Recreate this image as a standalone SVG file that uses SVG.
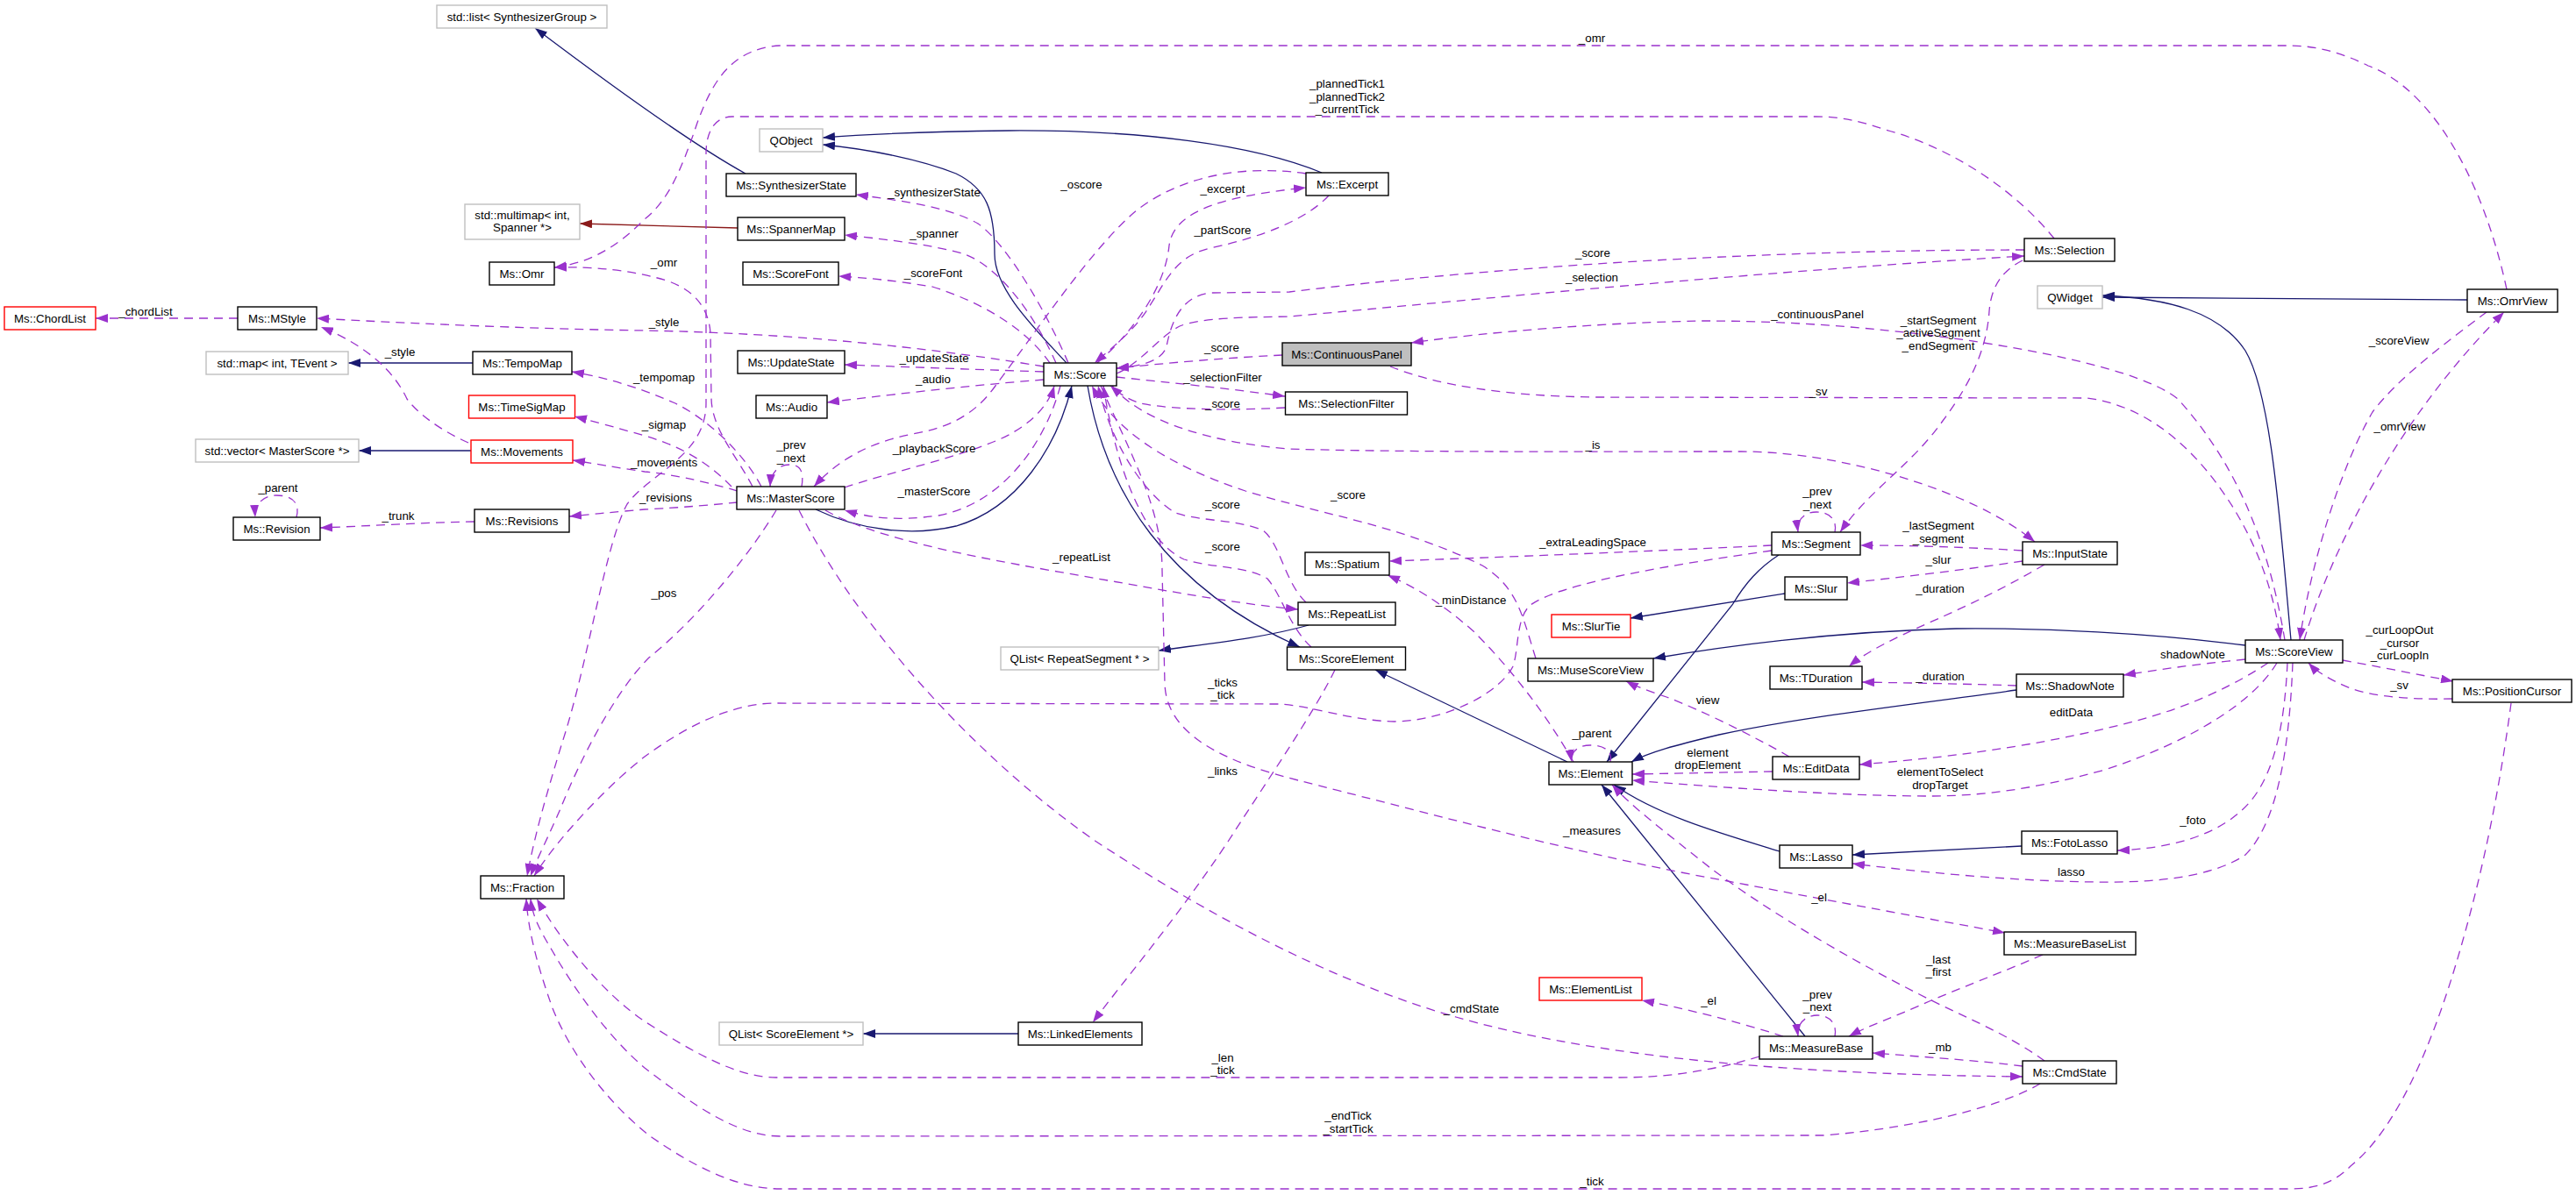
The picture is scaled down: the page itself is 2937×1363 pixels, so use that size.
<svg xmlns="http://www.w3.org/2000/svg" width="2937" height="1363" viewBox="0 0 2937 1363">
<style>
.b{fill:#fff;stroke:#000;stroke-width:1.4}
.g{fill:#fff;stroke:#bfbfbf;stroke-width:1.4}
.r{fill:#fff;stroke:#ff0000;stroke-width:1.4}
.root{fill:#bfbfbf;stroke:#000;stroke-width:1.4}
text{font-family:"Liberation Sans",Arial,Helvetica,sans-serif;font-size:13.3px;fill:#000;text-anchor:middle}
.u{fill:none;stroke:#9a32cd;stroke-width:1.3;stroke-dasharray:10,7;marker-end:url(#ap)}
.i{fill:none;stroke:#191970;stroke-width:1.3;marker-end:url(#an)}
.tp{fill:none;stroke:#8b1a1a;stroke-width:1.3;marker-end:url(#ar)}
</style>
<defs>
<marker id="ap" markerUnits="userSpaceOnUse" viewBox="0 0 14 10" markerWidth="14" markerHeight="10" refX="14" refY="5" orient="auto"><path d="M0,0L14,5L0,10z" fill="#9a32cd"/></marker>
<marker id="an" markerUnits="userSpaceOnUse" viewBox="0 0 14 10" markerWidth="14" markerHeight="10" refX="14" refY="5" orient="auto"><path d="M0,0L14,5L0,10z" fill="#191970"/></marker>
<marker id="ar" markerUnits="userSpaceOnUse" viewBox="0 0 14 10" markerWidth="14" markerHeight="10" refX="14" refY="5" orient="auto"><path d="M0,0L14,5L0,10z" fill="#8b1a1a"/></marker>
</defs>
<rect width="2937" height="1363" fill="#fff"/>
<g id="connectors">
<!-- inheritance -->
<path class="i" d="M850,198 C790,165 700,100 610,32"/>
<path class="i" d="M1216,414 C1180,375 1134,330 1134,290 C1134,240 1125,215 1090,198 C1050,182 990,170 938,165"/>
<path class="i" d="M1507,197 C1430,165 1300,148 1150,149 C1060,150 990,153 938,157"/>
<path class="i" d="M930,581 C980,605 1040,612 1090,600 C1160,580 1205,510 1222,440"/>
<path class="i" d="M1240,440 C1260,560 1330,670 1482,738"/>
<path class="i" d="M1492,713 C1440,728 1370,735 1321,742"/>
<path class="i" d="M1787,869 L1568,764"/>
<path class="i" d="M2028,633 C2005,648 1990,665 1975,690 L1832,869"/>
<path class="i" d="M2035,677 L1859,705"/>
<path class="i" d="M2560,736 C2450,722 2330,716 2230,717 C2100,720 1980,735 1885,751"/>
<path class="i" d="M2612,730 C2600,600 2590,450 2560,400 C2530,355 2470,340 2397,337"/>
<path class="i" d="M2813,342 L2397,339"/>
<path class="i" d="M2299,787 C2200,801 2050,818 1960,838 C1910,850 1880,858 1860,869"/>
<path class="i" d="M2029,971 C1960,950 1890,930 1840,895"/>
<path class="i" d="M2058,1182 L1826,895"/>
<path class="i" d="M2305,965 L2112,975"/>
<path class="i" d="M537,514 L409,514"/>
<path class="i" d="M539,414 L397,414"/>
<path class="i" d="M1161,1179 L984,1179"/>
<path class="tp" d="M841,260 L661,255"/>
<!-- usage -->
<path class="u" d="M271,363 L109,363"/>
<path class="u" d="M1190,418 C1050,395 900,380 735,377 C600,375 450,368 361,363"/>
<path class="u" d="M534,505 C500,490 475,470 464,455 C450,425 420,395 366,373"/>
<path class="u" d="M2858,330 C2830,200 2770,100 2700,75 C2670,60 2640,52 2610,52 L890,52 C830,55 810,100 795,140 C775,200 760,230 735,250 C700,285 670,300 632,305"/>
<path class="u" d="M2342,272 C2300,220 2230,170 2150,148 C2120,138 2100,133 2070,133 L835,133 C815,133 805,150 805,175 L805,460 C805,520 740,540 715,575 C690,620 670,760 640,850 C625,900 610,950 601,999"/>
<path class="u" d="M1489,198 C1400,185 1330,210 1290,245 C1240,290 1180,380 1135,440 C1110,475 1080,488 1040,495 C990,505 955,525 928,555"/>
<path class="u" d="M1251,414 C1290,380 1328,330 1333,280 C1338,245 1380,225 1489,214"/>
<path class="u" d="M1515,223 C1490,250 1440,270 1380,283 C1340,292 1330,320 1310,350 C1295,375 1270,395 1248,414"/>
<path class="u" d="M1218,414 C1195,360 1150,280 1115,255 C1080,235 1020,228 976,222"/>
<path class="u" d="M1204,414 C1180,360 1140,305 1100,290 C1060,278 1000,272 963,268"/>
<path class="u" d="M1197,414 C1170,375 1120,345 1063,327 C1020,320 990,317 956,315"/>
<path class="u" d="M1190,424 C1100,421 1020,418 963,416"/>
<path class="u" d="M1190,433 C1100,440 1000,452 943,459"/>
<path class="u" d="M1462,405 C1400,408 1330,414 1273,420"/>
<path class="u" d="M1273,430 C1330,436 1400,443 1465,452"/>
<path class="u" d="M1465,465 C1410,468 1340,468 1300,460 C1285,455 1275,448 1266,440"/>
<path class="u" d="M2308,285 C2000,285 1700,305 1470,333 L1380,334 C1345,338 1335,370 1330,395 C1325,412 1300,418 1273,420"/>
<path class="u" d="M1273,426 C1300,415 1320,385 1345,372 C1370,362 1420,362 1470,361 C1700,340 2000,310 2308,292"/>
<path class="u" d="M2605,730 C2590,640 2560,540 2483,455 C2440,420 2300,395 2205,383 C2100,370 2020,366 1940,366 C1830,368 1700,378 1609,391"/>
<path class="u" d="M2306,297 C2280,310 2270,330 2268,355 C2265,400 2245,440 2215,480 C2180,530 2130,560 2098,607"/>
<path class="u" d="M1585,418 C1640,440 1720,452 1820,453 L2380,454 C2440,462 2490,500 2530,555 C2570,610 2592,670 2600,730"/>
<path class="u" d="M2835,356 C2790,390 2735,430 2705,470 C2670,530 2635,640 2622,730"/>
<path class="u" d="M2627,730 C2660,620 2740,470 2855,356"/>
<path class="u" d="M1268,440 C1300,480 1380,505 1470,512 C1600,516 1800,515 1985,515 C2100,515 2250,560 2320,618"/>
<path class="u" d="M1751,751 C1735,700 1730,670 1690,645 C1600,600 1500,585 1420,560 C1330,530 1270,490 1245,440"/>
<path class="u" d="M1489,687 C1465,665 1460,620 1440,605 C1410,592 1370,595 1340,585 C1300,560 1265,500 1252,440"/>
<path class="u" d="M1495,738 C1470,715 1462,680 1445,660 C1420,645 1380,648 1350,638 C1300,615 1270,520 1258,440"/>
<path class="u" d="M941,582 C990,610 1080,630 1200,651 C1300,668 1400,688 1480,695"/>
<path class="u" d="M1209,440 C1190,510 1140,575 1070,588 C1020,595 990,590 963,582"/>
<path class="u" d="M963,556 C1010,540 1080,525 1130,505 C1170,490 1195,465 1202,440"/>
<path class="u" d="M914,555 C917,537 912,530 900,530 C888,530 879,538 878,555"/>
<path class="u" d="M834,555 C810,530 780,510 735,497 C700,487 675,480 655,475"/>
<path class="u" d="M841,560 C800,548 760,540 735,538 C700,533 680,529 653,525"/>
<path class="u" d="M841,573 C800,577 760,580 735,581 C700,584 680,586 649,589"/>
<path class="u" d="M868,555 C850,520 810,480 770,460 C740,447 700,432 652,424"/>
<path class="u" d="M858,555 C840,520 812,490 811,455 L810,380 C808,350 790,330 760,320 C720,308 680,304 632,305"/>
<path class="u" d="M2020,622 C1900,628 1700,636 1584,640"/>
<path class="u" d="M1794,869 C1760,810 1720,760 1680,720 C1640,685 1610,668 1582,656"/>
<path class="u" d="M1836,869 C1839,856 1828,850 1813,850 C1800,850 1790,857 1792,869"/>
<path class="u" d="M2040,863 C2000,840 1940,810 1900,795 C1880,788 1865,783 1854,777"/>
<path class="u" d="M2021,880 L1861,883"/>
<path class="u" d="M2596,756 C2570,800 2500,845 2400,878 C2320,900 2260,908 2200,908 C2100,908 1960,898 1861,890"/>
<path class="u" d="M2586,756 C2550,780 2500,805 2436,822 C2350,845 2250,862 2120,872"/>
<path class="u" d="M2560,752 C2500,758 2460,764 2421,770"/>
<path class="u" d="M2331,644 C2290,668 2250,688 2200,710 C2160,728 2130,742 2108,760"/>
<path class="u" d="M2299,782 C2240,780 2180,779 2123,778"/>
<path class="u" d="M2306,628 C2240,624 2180,622 2121,622"/>
<path class="u" d="M2306,640 C2240,650 2170,658 2106,665"/>
<path class="u" d="M2092,607 C2095,592 2085,584 2071,584 C2058,584 2048,592 2050,607"/>
<path class="u" d="M2671,753 C2710,760 2760,770 2797,777"/>
<path class="u" d="M2796,797 C2760,798 2710,796 2680,785 C2655,775 2640,765 2632,756"/>
<path class="u" d="M2863,802 C2850,900 2830,1000 2800,1100 C2770,1200 2730,1290 2680,1330 C2660,1350 2640,1356 2610,1356 L890,1356 C840,1356 790,1330 740,1295 C690,1255 650,1200 630,1150 C612,1100 602,1060 600,1025"/>
<path class="u" d="M2326,1236 C2290,1258 2200,1285 2080,1295 L890,1296 C840,1296 790,1260 735,1218 C690,1180 650,1120 630,1085 C615,1060 607,1045 605,1025"/>
<path class="u" d="M2006,1205 C1950,1222 1900,1229 1845,1229 L885,1229 C840,1229 790,1200 735,1165 C690,1135 640,1075 612,1025"/>
<path class="u" d="M911,582 C980,720 1120,870 1250,960 C1380,1045 1520,1120 1660,1160 C1800,1200 2000,1225 2306,1228"/>
<path class="u" d="M2306,1216 C2260,1210 2200,1206 2135,1201"/>
<path class="u" d="M2331,1210 C2290,1180 2240,1160 2200,1140 C2100,1090 2010,1035 1950,990 C1900,950 1860,920 1838,895"/>
<path class="u" d="M1255,440 C1290,520 1325,580 1325,650 L1328,780 C1330,840 1400,870 1480,890 C1600,920 1800,975 1970,1005 C2100,1030 2200,1048 2286,1064"/>
<path class="u" d="M2033,1182 C1980,1165 1920,1150 1872,1141"/>
<path class="u" d="M2329,1089 C2280,1110 2240,1125 2202,1141 C2160,1160 2130,1170 2108,1182"/>
<path class="u" d="M2092,1182 C2095,1167 2085,1158 2072,1158 C2059,1158 2048,1167 2050,1182"/>
<path class="u" d="M2608,756 C2605,820 2595,880 2565,915 C2530,955 2470,968 2414,970"/>
<path class="u" d="M2614,756 C2610,860 2595,940 2560,975 C2520,1002 2450,1007 2390,1006 C2300,1005 2200,996 2112,985"/>
<path class="u" d="M1522,764 C1500,810 1445,890 1400,960 C1340,1050 1280,1120 1246,1166"/>
<path class="u" d="M2020,628 C1900,645 1780,665 1745,690 C1728,705 1732,740 1725,760 C1710,790 1650,822 1590,823 C1540,822 1500,806 1460,803 L880,802 C830,804 780,830 735,863 C700,890 640,950 609,999"/>
<path class="u" d="M885,582 C850,640 790,710 740,750 C700,790 660,870 640,920 C625,955 612,980 605,999"/>
<path class="u" d="M541,595 C480,596 420,600 365,602"/>
<path class="u" d="M338,590 C342,575 335,565 315,565 C300,565 290,575 291,590"/>
</g>
<g id="edge-labels">
<text x="166" y="359.5">_chordList</text>
<text x="757" y="372">_style</text>
<text x="456" y="405.5">_style</text>
<text x="1815" y="48">_omr</text>
<text x="1536" y="100">_plannedTick1</text>
<text x="1536" y="114.7">_plannedTick2</text>
<text x="1536" y="129.3">_currentTick</text>
<text x="1233" y="215">_oscore</text>
<text x="1394" y="219.5">_excerpt</text>
<text x="1394" y="267">_partScore</text>
<text x="1065" y="224">_synthesizerState</text>
<text x="1065" y="271">_spanner</text>
<text x="1064" y="316">_scoreFont</text>
<text x="1065" y="413">_updateState</text>
<text x="1064" y="437">_audio</text>
<text x="1393" y="401">_score</text>
<text x="1394" y="435">_selectionFilter</text>
<text x="1394" y="464.5">_score</text>
<text x="1816" y="293">_score</text>
<text x="1815" y="321">_selection</text>
<text x="2072" y="363">_continuousPanel</text>
<text x="2210" y="369.5">_startSegment</text>
<text x="2210" y="384">_activeSegment</text>
<text x="2210" y="399">_endSegment</text>
<text x="2073" y="451">_sv</text>
<text x="2735" y="393">_scoreView</text>
<text x="2736" y="491">_omrView</text>
<text x="1816" y="512">_is</text>
<text x="1537" y="568.5">_score</text>
<text x="1394" y="579.5">_score</text>
<text x="1394" y="628">_score</text>
<text x="1233" y="640">_repeatList</text>
<text x="1065" y="564.5">_masterScore</text>
<text x="1065" y="516">_playbackScore</text>
<text x="902" y="512">_prev</text>
<text x="902" y="527">_next</text>
<text x="757" y="489">_sigmap</text>
<text x="757" y="532">_movements</text>
<text x="759" y="572">_revisions</text>
<text x="757" y="435">_tempomap</text>
<text x="757" y="303.5">_omr</text>
<text x="1816" y="623">_extraLeadingSpace</text>
<text x="1677" y="689">_minDistance</text>
<text x="1815" y="841">_parent</text>
<text x="1947" y="803">view</text>
<text x="1947" y="863">element</text>
<text x="1947" y="877">dropElement</text>
<text x="2212" y="884.5">elementToSelect</text>
<text x="2212" y="899.5">dropTarget</text>
<text x="2361.5" y="817">editData</text>
<text x="2500" y="751">shadowNote</text>
<text x="2212" y="676">_duration</text>
<text x="2212" y="776">_duration</text>
<text x="2210" y="604">_lastSegment</text>
<text x="2210" y="619">_segment</text>
<text x="2210" y="643">_slur</text>
<text x="2072" y="564.5">_prev</text>
<text x="2072" y="579.5">_next</text>
<text x="2736" y="723">_curLoopOut</text>
<text x="2736" y="737.5">_cursor</text>
<text x="2736" y="752">_curLoopIn</text>
<text x="2735.5" y="785.5">_sv</text>
<text x="1815" y="1352">_tick</text>
<text x="1537" y="1277">_endTick</text>
<text x="1537" y="1292">_startTick</text>
<text x="1394" y="1211">_len</text>
<text x="1394" y="1225">_tick</text>
<text x="1677.5" y="1155">_cmdState</text>
<text x="2212" y="1199">_mb</text>
<text x="2074" y="1027.5">_el</text>
<text x="1815" y="952">_measures</text>
<text x="1948" y="1146">_el</text>
<text x="2210" y="1099">_last</text>
<text x="2210" y="1113">_first</text>
<text x="2072" y="1139">_prev</text>
<text x="2072" y="1153">_next</text>
<text x="2500" y="940">_foto</text>
<text x="2361.5" y="999">lasso</text>
<text x="1394" y="884">_links</text>
<text x="1394" y="782.8">_ticks</text>
<text x="1394" y="797">_tick</text>
<text x="757" y="680.5">_pos</text>
<text x="454" y="593">_trunk</text>
<text x="317" y="561">_parent</text>
</g>
<g id="n_stdlist"><rect class="g" x="498" y="6" width="194" height="26"/><text x="595" y="23.5">std::list&lt; SynthesizerGroup &gt;</text></g>
<g id="n_qobject"><rect class="g" x="866" y="147" width="72" height="26"/><text x="902" y="164.5">QObject</text></g>
<g id="n_synthstate"><rect class="b" x="828" y="198" width="148" height="26"/><text x="902" y="215.5">Ms::SynthesizerState</text></g>
<g id="n_multimap"><rect class="g" x="530" y="233" width="131" height="40"/><text x="595.5" y="249.5">std::multimap&lt; int,</text><text x="595.5" y="264">Spanner *&gt;</text></g>
<g id="n_spannermap"><rect class="b" x="841" y="248" width="122" height="26"/><text x="902" y="265.5">Ms::SpannerMap</text></g>
<g id="n_omr"><rect class="b" x="558" y="299" width="74" height="26"/><text x="595" y="316.5">Ms::Omr</text></g>
<g id="n_scorefont"><rect class="b" x="847" y="299" width="109" height="26"/><text x="901.5" y="316.5">Ms::ScoreFont</text></g>
<g id="n_chordlist"><rect class="r" x="5" y="350" width="104" height="26"/><text x="57" y="367.5">Ms::ChordList</text></g>
<g id="n_mstyle"><rect class="b" x="271" y="350" width="90" height="26"/><text x="316" y="367.5">Ms::MStyle</text></g>
<g id="n_stdmap"><rect class="g" x="235" y="401" width="162" height="26"/><text x="316" y="418.5">std::map&lt; int, TEvent &gt;</text></g>
<g id="n_tempomap"><rect class="b" x="539" y="401" width="113" height="26"/><text x="595.5" y="418.5">Ms::TempoMap</text></g>
<g id="n_updatestate"><rect class="b" x="841" y="400" width="122" height="26"/><text x="902" y="417.5">Ms::UpdateState</text></g>
<g id="n_score"><rect class="b" x="1190" y="414" width="83" height="26"/><text x="1231.5" y="431.5">Ms::Score</text></g>
<g id="n_contpanel"><rect class="root" x="1462" y="391" width="147" height="26"/><text x="1535.5" y="408.5">Ms::ContinuousPanel</text></g>
<g id="n_excerpt"><rect class="b" x="1489" y="197" width="94" height="26"/><text x="1536" y="214.5">Ms::Excerpt</text></g>
<g id="n_selection"><rect class="b" x="2308" y="272" width="103" height="26"/><text x="2359.5" y="289.5">Ms::Selection</text></g>
<g id="n_qwidget"><rect class="g" x="2323" y="326" width="74" height="26"/><text x="2360" y="343.5">QWidget</text></g>
<g id="n_omrview"><rect class="b" x="2813" y="330" width="103" height="26"/><text x="2864.5" y="347.5">Ms::OmrView</text></g>
<g id="n_timesigmap"><rect class="r" x="534.5" y="451" width="121" height="26"/><text x="595" y="468.5">Ms::TimeSigMap</text></g>
<g id="n_audio"><rect class="b" x="862" y="451" width="81" height="26"/><text x="902.5" y="468.5">Ms::Audio</text></g>
<g id="n_selfilter"><rect class="b" x="1465.5" y="447" width="139" height="26"/><text x="1535" y="464.5">Ms::SelectionFilter</text></g>
<g id="n_vector"><rect class="g" x="223" y="501" width="186" height="26"/><text x="316" y="518.5">std::vector&lt; MasterScore *&gt;</text></g>
<g id="n_movements"><rect class="r" x="537" y="502" width="116" height="26"/><text x="595" y="519.5">Ms::Movements</text></g>
<g id="n_masterscore"><rect class="b" x="840" y="555" width="123" height="26"/><text x="901.5" y="572.5">Ms::MasterScore</text></g>
<g id="n_revision"><rect class="b" x="266" y="590" width="99" height="26"/><text x="315.5" y="607.5">Ms::Revision</text></g>
<g id="n_revisions"><rect class="b" x="541" y="581" width="108" height="26"/><text x="595" y="598.5">Ms::Revisions</text></g>
<g id="n_segment"><rect class="b" x="2020" y="607" width="101" height="26"/><text x="2070.5" y="624.5">Ms::Segment</text></g>
<g id="n_inputstate"><rect class="b" x="2306" y="618" width="108" height="26"/><text x="2360" y="635.5">Ms::InputState</text></g>
<g id="n_spatium"><rect class="b" x="1488" y="630" width="96" height="26"/><text x="1536" y="647.5">Ms::Spatium</text></g>
<g id="n_slur"><rect class="b" x="2035" y="658" width="71" height="26"/><text x="2070.5" y="675.5">Ms::Slur</text></g>
<g id="n_repeatlist"><rect class="b" x="1480" y="687" width="111" height="26"/><text x="1535.5" y="704.5">Ms::RepeatList</text></g>
<g id="n_slurtie"><rect class="r" x="1769" y="701" width="90" height="26"/><text x="1814" y="718.5">Ms::SlurTie</text></g>
<g id="n_scoreview"><rect class="b" x="2560" y="730" width="111" height="26"/><text x="2615.5" y="747.5">Ms::ScoreView</text></g>
<g id="n_qlistrs"><rect class="g" x="1141" y="738" width="180" height="26"/><text x="1231" y="755.5">QList&lt; RepeatSegment * &gt;</text></g>
<g id="n_scoreelement"><rect class="b" x="1467.5" y="738" width="135" height="26"/><text x="1535" y="755.5">Ms::ScoreElement</text></g>
<g id="n_musescoreview"><rect class="b" x="1742" y="751" width="143" height="26"/><text x="1813.5" y="768.5">Ms::MuseScoreView</text></g>
<g id="n_tduration"><rect class="b" x="2018" y="760" width="105" height="26"/><text x="2070.5" y="777.5">Ms::TDuration</text></g>
<g id="n_shadownote"><rect class="b" x="2299" y="769" width="122" height="26"/><text x="2360" y="786.5">Ms::ShadowNote</text></g>
<g id="n_poscursor"><rect class="b" x="2796" y="775" width="136" height="26"/><text x="2864" y="792.5">Ms::PositionCursor</text></g>
<g id="n_editdata"><rect class="b" x="2021" y="863" width="99" height="26"/><text x="2070.5" y="880.5">Ms::EditData</text></g>
<g id="n_element"><rect class="b" x="1766" y="869" width="95" height="26"/><text x="1813.5" y="886.5">Ms::Element</text></g>
<g id="n_fotolasso"><rect class="b" x="2305" y="948" width="109" height="26"/><text x="2359.5" y="965.5">Ms::FotoLasso</text></g>
<g id="n_lasso"><rect class="b" x="2029" y="964" width="83" height="26"/><text x="2070.5" y="981.5">Ms::Lasso</text></g>
<g id="n_fraction"><rect class="b" x="548" y="999" width="95" height="26"/><text x="595.5" y="1016.5">Ms::Fraction</text></g>
<g id="n_measurebaselist"><rect class="b" x="2285" y="1063" width="150" height="26"/><text x="2360" y="1080.5">Ms::MeasureBaseList</text></g>
<g id="n_elementlist"><rect class="r" x="1755" y="1115" width="117" height="26"/><text x="1813.5" y="1132.5">Ms::ElementList</text></g>
<g id="n_qlistse"><rect class="g" x="820" y="1166" width="164" height="26"/><text x="902" y="1183.5">QList&lt; ScoreElement *&gt;</text></g>
<g id="n_linkedelements"><rect class="b" x="1161" y="1166" width="141" height="26"/><text x="1231.5" y="1183.5">Ms::LinkedElements</text></g>
<g id="n_measurebase"><rect class="b" x="2006" y="1182" width="129" height="26"/><text x="2070.5" y="1199.5">Ms::MeasureBase</text></g>
<g id="n_cmdstate"><rect class="b" x="2306" y="1210" width="107" height="26"/><text x="2359.5" y="1227.5">Ms::CmdState</text></g>
</svg>
